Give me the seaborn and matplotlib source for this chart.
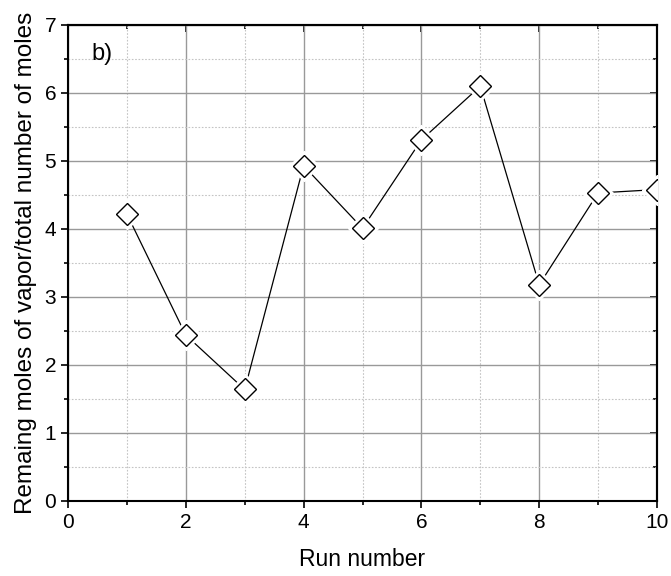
import numpy as np
import pandas as pd
import matplotlib
matplotlib.use('Agg')
import matplotlib.pyplot as plt
import seaborn as sns
from matplotlib.ticker import MultipleLocator

run = [1, 2, 3, 4, 5, 6, 7, 8, 9, 10]
moles = [4.22, 2.44, 1.64, 4.93, 4.01, 5.31, 6.10, 3.18, 4.53, 4.58]

data = pd.DataFrame({'run': run, 'moles': moles})

sns.set_style('white')
plt.rcParams['font.family'] = ['Liberation Sans', 'DejaVu Sans']
plt.rcParams['text.color'] = 'black'
plt.rcParams['axes.labelcolor'] = 'black'
plt.rcParams['xtick.color'] = 'black'
plt.rcParams['ytick.color'] = 'black'

fig = plt.figure(figsize=(6.71, 5.76), dpi=100)
ax = fig.add_axes([68 / 671, 1 - 501 / 576, 589 / 671, 476 / 576])

# white halo under the markers so the line stops short of them
ax.plot(data['run'], data['moles'], linestyle='none', marker='D', markersize=15,
        markerfacecolor='white', markeredgecolor='white', zorder=3)
sns.lineplot(data=data, x='run', y='moles', ax=ax, color='black', linewidth=0.9,
             marker='D', markersize=11, markerfacecolor='white',
             markeredgecolor='black', markeredgewidth=1.0, zorder=2)
for ln in ax.lines[1:]:
    ln.set_zorder(2)
ax.plot(data['run'], data['moles'], linestyle='none', marker='D', markersize=11,
        markerfacecolor='white', markeredgecolor='black', markeredgewidth=1.0, zorder=4)

ax.set_xlim(0, 10)
ax.set_ylim(0, 7)
ax.xaxis.set_major_locator(MultipleLocator(2))
ax.xaxis.set_minor_locator(MultipleLocator(1))
ax.yaxis.set_major_locator(MultipleLocator(1))
ax.yaxis.set_minor_locator(MultipleLocator(0.5))

ax.grid(True, which='major', color='#999999', linewidth=1.0, linestyle='-')
ax.grid(True, which='minor', color='#c4c4c4', linewidth=0.8, linestyle=(0, (1.5, 1.5)))
ax.set_axisbelow(True)

for s in ax.spines.values():
    s.set_color('black')
    s.set_linewidth(1.5)
    s.set_visible(True)

ax.tick_params(which='both', direction='out', bottom=True, left=True, top=False, right=False,
               width=1.2, color='black', labelcolor='black', labelsize=15)
ax.tick_params(which='major', length=5)
ax.tick_params(which='minor', length=3)

# inward ticks on top and right
ax2 = ax.secondary_xaxis('top')
ax2.xaxis.set_major_locator(MultipleLocator(2))
ax2.xaxis.set_minor_locator(MultipleLocator(1))
ax2.tick_params(which='both', direction='in', width=1.2, labeltop=False)
ax2.tick_params(which='major', length=5)
ax2.tick_params(which='minor', length=3)
ax2.spines['top'].set_linewidth(1.5)
ax3 = ax.secondary_yaxis('right')
ax3.yaxis.set_major_locator(MultipleLocator(1))
ax3.yaxis.set_minor_locator(MultipleLocator(0.5))
ax3.tick_params(which='both', direction='in', width=1.2, labelright=False)
ax3.tick_params(which='major', length=5)
ax3.tick_params(which='minor', length=3)
ax3.spines['right'].set_linewidth(1.5)

ax.set_xlabel('Run number', fontsize=16.5, labelpad=12, color='black')
ax.set_ylabel('Remaing moles of vapor/total number of moles', fontsize=17.5, labelpad=5,
              color='black')
ax.text(0.04, 0.94, 'b)', transform=ax.transAxes, fontsize=17, va='center', ha='left',
        color='black')

fig.savefig('out.png', dpi=100)
